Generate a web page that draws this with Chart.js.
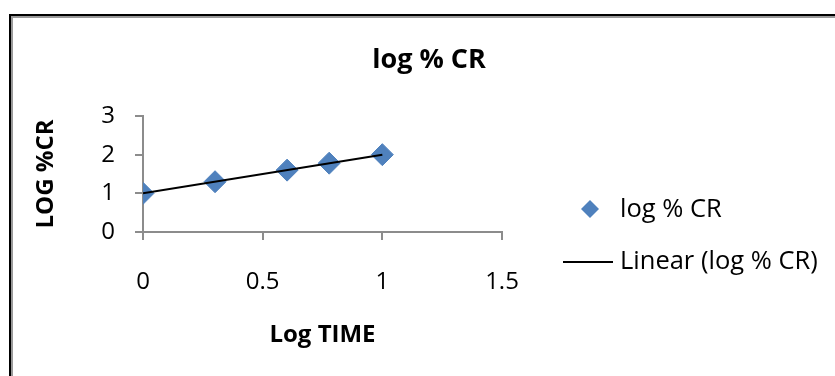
<!DOCTYPE html>
<html>
<head>
<meta charset="utf-8">
<script src="https://cdn.jsdelivr.net/npm/chart.js@4/dist/chart.umd.min.js"></script>
<style>
  html, body { margin: 0; padding: 0; background: #fff; overflow: hidden; }
  #frame {
    position: absolute; left: 9px; top: 14px; width: 900px; height: 420px;
    border-left: 2px solid #000; border-top: 2px solid #000;
    box-shadow: inset 2px 2px 0 #9a9a9a;
  }
  #cv { position: absolute; left: 0; top: 0; }
</style>
</head>
<body>
<div id="frame"></div>
<canvas id="cv" width="835" height="376"></canvas>
<script>
// data
var logTime = [0, 0.301, 0.602, 0.778, 1];
var logCR = [1, 1.30, 1.60, 1.78, 2.0];
var xTicks = [0, 0.5, 1, 1.5];
var yTicks = [0, 1, 2, 3];
var seriesName = 'log % CR';
var trendName = 'Linear (log % CR)';

var blue = '#4F81BD';
var axisGray = '#8c8c8c';
var fontFamily = '"Open Sans", Calibri, sans-serif';

// least squares fit, like Excel's linear trendline
function linearFit(xs, ys) {
  var n = xs.length, sx = 0, sy = 0, sxy = 0, sxx = 0;
  for (var i = 0; i < n; i++) {
    sx += xs[i]; sy += ys[i]; sxy += xs[i] * ys[i]; sxx += xs[i] * xs[i];
  }
  var m = (n * sxy - sx * sy) / (n * sxx - sx * sx);
  var b = (sy - m * sx) / n;
  return { m: m, b: b };
}
var fit = linearFit(logTime, logCR);
var xMin = Math.min.apply(null, logTime), xMax = Math.max.apply(null, logTime);
var trendPts = [xMin, xMax].map(function (x) { return { x: x, y: fit.m * x + fit.b }; });

// title + legend drawn by hand so they sit where Excel put them
var decorPlugin = {
  id: 'decor',
  afterDraw: function (chart) {
    var ctx = chart.ctx;
    ctx.save();
    ctx.fillStyle = '#000';
    ctx.textBaseline = 'middle';
    ctx.textAlign = 'center';
    ctx.font = 'bold 27px ' + fontFamily;
    ctx.fillText(seriesName, 429, 60);

    // legend: marker entry
    ctx.fillStyle = blue;
    ctx.beginPath();
    ctx.moveTo(590, 200); ctx.lineTo(599, 209); ctx.lineTo(590, 218); ctx.lineTo(581, 209);
    ctx.closePath(); ctx.fill();
    ctx.fillStyle = '#000';
    ctx.textAlign = 'left';
    ctx.font = '25.5px ' + fontFamily;
    ctx.fillText(seriesName, 620, 210);
    // legend: trendline entry
    ctx.strokeStyle = '#000';
    ctx.lineWidth = 2;
    ctx.beginPath(); ctx.moveTo(563, 262); ctx.lineTo(613, 262); ctx.stroke();
    ctx.fillText(trendName, 620, 262);
    ctx.restore();
  }
};

function plainLabel(v) { return String(v); }

new Chart(document.getElementById('cv'), {
  type: 'scatter',
  data: {
    datasets: [{
      label: seriesName,
      data: logTime.map(function (x, i) { return { x: x, y: logCR[i] }; }),
      pointStyle: 'rectRot',
      pointRadius: 11,
      backgroundColor: blue,
      borderColor: blue,
      borderWidth: 1,
      order: 2
    }, {
      label: trendName,
      type: 'line',
      data: trendPts,
      borderColor: '#000',
      borderWidth: 2,
      pointRadius: 0,
      fill: false,
      order: 1
    }]
  },
  options: {
    responsive: false,
    animation: false,
    devicePixelRatio: 1,
    layout: { padding: { left: 10, top: 116, right: 333, bottom: 0 } },
    plugins: {
      legend: { display: false },
      title: { display: false },
      tooltip: { enabled: false }
    },
    scales: {
      x: {
        type: 'linear',
        min: 0, max: 1.5,
        afterBuildTicks: function (s) { s.ticks = xTicks.map(function (v) { return { value: v }; }); },
        afterFit: function (s) { s.height = 144; },
        grid: { drawOnChartArea: false, drawTicks: true, tickLength: 8, color: axisGray, lineWidth: 2 },
        border: { display: true, color: axisGray, width: 2 },
        ticks: { color: '#000', padding: 28, callback: plainLabel, font: { family: fontFamily, size: 24 } },
        title: { display: true, text: 'Log TIME', color: '#000', padding: { bottom: 26 },
                 font: { family: fontFamily, size: 24, weight: 'bold' } }
      },
      y: {
        min: 0, max: 3,
        afterBuildTicks: function (s) { s.ticks = yTicks.map(function (v) { return { value: v }; }); },
        afterFit: function (s) { s.width = 133; },
        grid: { drawOnChartArea: false, drawTicks: true, tickLength: 8, color: axisGray, lineWidth: 2 },
        border: { display: true, color: axisGray, width: 2 },
        ticks: { color: '#000', padding: 20, callback: plainLabel, font: { family: fontFamily, size: 24 } },
        title: { display: true, text: 'LOG %CR', color: '#000', padding: { top: 22 },
                 font: { family: fontFamily, size: 24, weight: 'bold' } }
      }
    }
  },
  plugins: [decorPlugin]
});
</script>
</body>
</html>
